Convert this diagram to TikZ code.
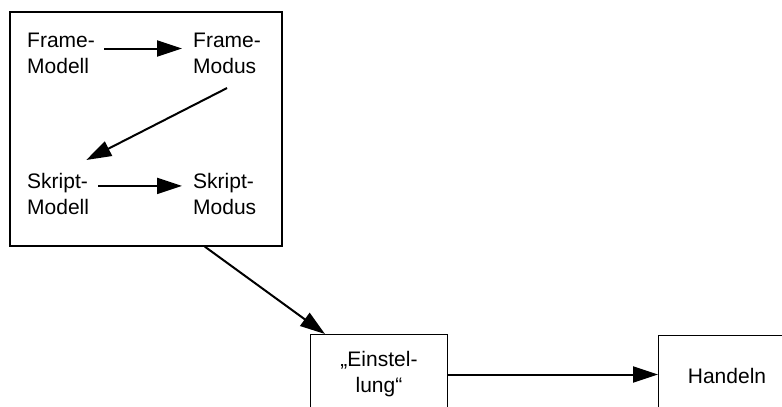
\documentclass[tikz,border=0pt]{standalone}
\usepackage{fontspec}
\setmainfont{Liberation Sans}
\usetikzlibrary{arrows.meta,calc}
\begin{document}
\begin{tikzpicture}[x=1pt,y=-1pt,
  label text/.style={inner sep=0pt, align=left, font=\fontsize{21}{26}\selectfont},
  flow/.style={line width=2pt, -{Triangle[length=25pt,width=16pt]}},
  stage/.style={draw, line width=1pt, minimum height=80pt, minimum width=137pt,
    inner sep=0pt, font=\fontsize{21}{26}\selectfont, align=center}]
  \useasboundingbox (0,0) rectangle (782,407);
  \begin{scope}
    \clip (0,0) rectangle (782,407);
    % outer frame around the model/mode pairs
    \node[draw, line width=1.8pt, minimum width=272pt, minimum height=234pt,
      inner sep=0pt, anchor=north west] (frame) at (8.8,10.8) {};
    % inner labels
    \node[label text, anchor=north west] (fmodell) at (27,33) {Frame-\\Modell};
    \node[label text, anchor=north west] (fmodus) at (193,33) {Frame-\\Modus};
    \node[label text, anchor=north west] (smodell) at (27,173) {Skript-\\Modell};
    \node[label text, anchor=north west] (smodus) at (193,173) {Skript-\\Modus};
    % lower stages
    \node[stage, anchor=north west] (einst) at (310,334) {„Einstel-\\lung“};
    \node[stage, anchor=north west] (handeln) at (658,335) {Handeln};
    % connectors
    \draw[flow] ($(fmodell.east)+(9,-5)$) -- ($(fmodus.west)+(-11,-5)$);
    \draw[flow] ($(smodell.east)+(9,-8)$) -- ($(smodus.west)+(-11,-8)$);
    \draw[flow] ($(fmodus.south)+(0,14)$) -- ($(smodell.north east)+(-3,-13)$);
    \draw[flow] ($(frame.south west)+(196,0)$) -- ($(einst.north west)+(15,0)$);
    \draw[flow] (einst.east) -- (einst.east -| handeln.west);
  \end{scope}
\end{tikzpicture}
\end{document}
